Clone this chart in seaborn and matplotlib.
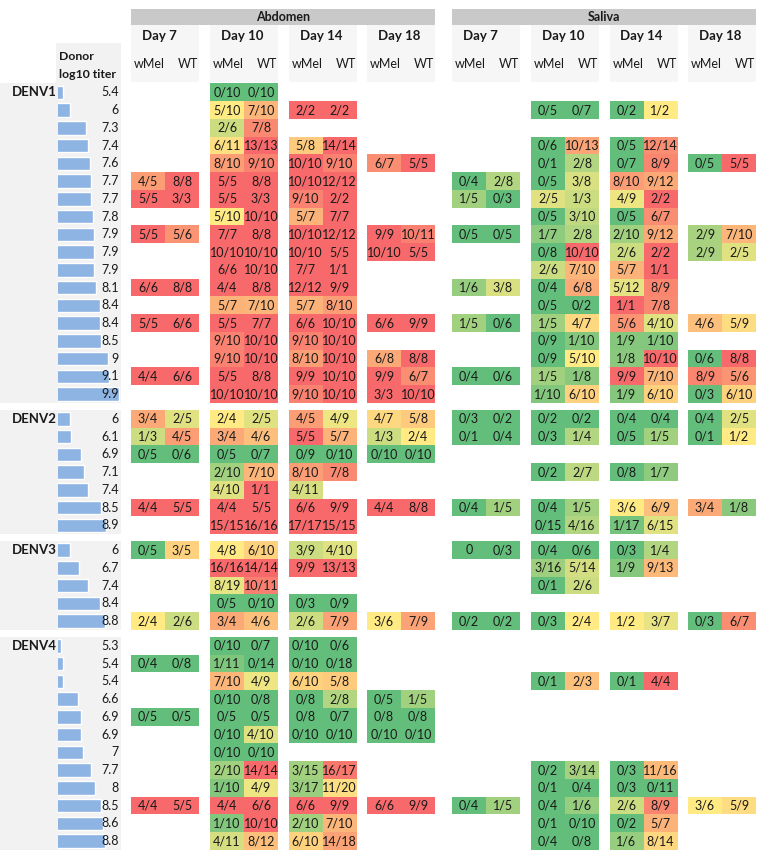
import numpy as np
import matplotlib
matplotlib.use('Agg')
import matplotlib.pyplot as plt
from matplotlib.colors import LinearSegmentedColormap
from matplotlib.patches import Rectangle
from matplotlib.transforms import blended_transform_factory
import seaborn as sns

# donor titers per serotype
denv1_titer = [5.4, 6, 7.3, 7.4, 7.6, 7.7, 7.7, 7.8, 7.9, 7.9, 7.9, 8.1, 8.4, 8.4, 8.5, 9, 9.1, 9.9]
denv2_titer = [6, 6.1, 6.9, 7.1, 7.4, 8.5, 8.9]
denv3_titer = [6, 6.7, 7.4, 8.4, 8.8]
denv4_titer = [5.3, 5.4, 5.4, 6.6, 6.9, 6.9, 7, 7.7, 8, 8.5, 8.6, 8.8]

days = ['Day 7', 'Day 10', 'Day 14', 'Day 18']
tissues = ['Abdomen', 'Saliva']
strains = ['wMel', 'WT']
E = ''

# infected / tested, columns: D7 wMel, D7 WT, D10 wMel, D10 WT, D14 wMel, D14 WT, D18 wMel, D18 WT
denv1_abdomen = [
    [E, E, '0/10', '0/10', E, E, E, E],
    [E, E, '5/10', '7/10', '2/2', '2/2', E, E],
    [E, E, '2/6', '7/8', E, E, E, E],
    [E, E, '6/11', '13/13', '5/8', '14/14', E, E],
    [E, E, '8/10', '9/10', '10/10', '9/10', '6/7', '5/5'],
    ['4/5', '8/8', '5/5', '8/8', '10/10', '12/12', E, E],
    ['5/5', '3/3', '5/5', '3/3', '9/10', '2/2', E, E],
    [E, E, '5/10', '10/10', '5/7', '7/7', E, E],
    ['5/5', '5/6', '7/7', '8/8', '10/10', '12/12', '9/9', '10/11'],
    [E, E, '10/10', '10/10', '10/10', '5/5', '10/10', '5/5'],
    [E, E, '6/6', '10/10', '7/7', '1/1', E, E],
    ['6/6', '8/8', '4/4', '8/8', '12/12', '9/9', E, E],
    [E, E, '5/7', '7/10', '5/7', '8/10', E, E],
    ['5/5', '6/6', '5/5', '7/7', '6/6', '10/10', '6/6', '9/9'],
    [E, E, '9/10', '10/10', '9/10', '10/10', E, E],
    [E, E, '9/10', '10/10', '8/10', '10/10', '6/8', '8/8'],
    ['4/4', '6/6', '5/5', '8/8', '9/9', '10/10', '9/9', '6/7'],
    [E, E, '10/10', '10/10', '9/10', '10/10', '3/3', '10/10'],
]
denv1_saliva = [
    [E, E, E, E, E, E, E, E],
    [E, E, '0/5', '0/7', '0/2', '1/2', E, E],
    [E, E, E, E, E, E, E, E],
    [E, E, '0/6', '10/13', '0/5', '12/14', E, E],
    [E, E, '0/1', '2/8', '0/7', '8/9', '0/5', '5/5'],
    ['0/4', '2/8', '0/5', '3/8', '8/10', '9/12', E, E],
    ['1/5', '0/3', '2/5', '1/3', '4/9', '2/2', E, E],
    [E, E, '0/5', '3/10', '0/5', '6/7', E, E],
    ['0/5', '0/5', '1/7', '2/8', '2/10', '9/12', '2/9', '7/10'],
    [E, E, '0/8', '10/10', '2/6', '2/2', '2/9', '2/5'],
    [E, E, '2/6', '7/10', '5/7', '1/1', E, E],
    ['1/6', '3/8', '0/4', '6/8', '5/12', '8/9', E, E],
    [E, E, '0/5', '0/2', '1/1', '7/8', E, E],
    ['1/5', '0/6', '1/5', '4/7', '5/6', '4/10', '4/6', '5/9'],
    [E, E, '0/9', '1/10', '1/9', '1/10', E, E],
    [E, E, '0/9', '5/10', '1/8', '10/10', '0/6', '8/8'],
    ['0/4', '0/6', '1/5', '1/8', '9/9', '7/10', '8/9', '5/6'],
    [E, E, '1/10', '6/10', '1/9', '6/10', '0/3', '6/10'],
]
denv2_abdomen = [
    ['3/4', '2/5', '2/4', '2/5', '4/5', '4/9', '4/7', '5/8'],
    ['1/3', '4/5', '3/4', '4/6', '5/5', '5/7', '1/3', '2/4'],
    ['0/5', '0/6', '0/5', '0/7', '0/9', '0/10', '0/10', '0/10'],
    [E, E, '2/10', '7/10', '8/10', '7/8', E, E],
    [E, E, '4/10', '1/1', '4/11', E, E, E],
    ['4/4', '5/5', '4/4', '5/5', '6/6', '9/9', '4/4', '8/8'],
    [E, E, '15/15', '16/16', '17/17', '15/15', E, E],
]
denv2_saliva = [
    ['0/3', '0/2', '0/2', '0/2', '0/4', '0/4', '0/4', '2/5'],
    ['0/1', '0/4', '0/3', '1/4', '0/5', '1/5', '0/1', '1/2'],
    [E, E, E, E, E, E, E, E],
    [E, E, '0/2', '2/7', '0/8', '1/7', E, E],
    [E, E, E, E, E, E, E, E],
    ['0/4', '1/5', '0/4', '1/5', '3/6', '6/9', '3/4', '1/8'],
    [E, E, '0/15', '4/16', '1/17', '6/15', E, E],
]
denv3_abdomen = [
    ['0/5', '3/5', '4/8', '6/10', '3/9', '4/10', E, E],
    [E, E, '16/16', '14/14', '9/9', '13/13', E, E],
    [E, E, '8/19', '10/11', E, E, E, E],
    [E, E, '0/5', '0/10', '0/3', '0/9', E, E],
    ['2/4', '2/6', '3/4', '4/6', '2/6', '7/9', '3/6', '7/9'],
]
denv3_saliva = [
    ['0', '0/3', '0/4', '0/6', '0/3', '1/4', E, E],
    [E, E, '3/16', '5/14', '1/9', '9/13', E, E],
    [E, E, '0/1', '2/6', E, E, E, E],
    [E, E, E, E, E, E, E, E],
    ['0/2', '0/2', '0/3', '2/4', '1/2', '3/7', '0/3', '6/7'],
]
denv4_abdomen = [
    [E, E, '0/10', '0/7', '0/10', '0/6', E, E],
    ['0/4', '0/8', '1/11', '0/14', '0/10', '0/18', E, E],
    [E, E, '7/10', '4/9', '6/10', '5/8', E, E],
    [E, E, '0/10', '0/8', '0/8', '2/8', '0/5', '1/5'],
    ['0/5', '0/5', '0/5', '0/5', '0/8', '0/7', '0/8', '0/8'],
    [E, E, '0/10', '4/10', '0/10', '0/10', '0/10', '0/10'],
    [E, E, '0/10', '0/10', E, E, E, E],
    [E, E, '2/10', '14/14', '3/15', '16/17', E, E],
    [E, E, '1/10', '4/9', '3/17', '11/20', E, E],
    ['4/4', '5/5', '4/4', '6/6', '6/6', '9/9', '6/6', '9/9'],
    [E, E, '1/10', '10/10', '2/10', '7/10', E, E],
    [E, E, '4/11', '8/12', '6/10', '14/18', E, E],
]
denv4_saliva = [
    [E, E, E, E, E, E, E, E],
    [E, E, E, E, E, E, E, E],
    [E, E, '0/1', '2/3', '0/1', '4/4', E, E],
    [E, E, E, E, E, E, E, E],
    [E, E, E, E, E, E, E, E],
    [E, E, E, E, E, E, E, E],
    [E, E, E, E, E, E, E, E],
    [E, E, '0/2', '3/14', '0/3', '11/16', E, E],
    [E, E, '0/1', '0/4', '0/3', '0/11', E, E],
    ['0/4', '1/5', '0/4', '1/6', '2/6', '8/9', '3/6', '5/9'],
    [E, E, '0/1', '0/10', '0/2', '5/7', E, E],
    [E, E, '0/4', '0/8', '1/6', '8/14', E, E],
]

groups = [
    ('DENV1', denv1_titer, denv1_abdomen, denv1_saliva),
    ('DENV2', denv2_titer, denv2_abdomen, denv2_saliva),
    ('DENV3', denv3_titer, denv3_abdomen, denv3_saliva),
    ('DENV4', denv4_titer, denv4_abdomen, denv4_saliva),
]


def frac(s):
    if s == '':
        return np.nan
    if '/' in s:
        a, b = s.split('/')
        return float(a) / float(b)
    return float(s)


sns.set_theme(style='white')
plt.rcParams['font.family'] = ['Lato', 'DejaVu Sans']

W, H = 766, 861
fig = plt.figure(figsize=(W / 100, H / 100), dpi=100)


def px_axes(x, y, w, h):
    return fig.add_axes([x / W, 1 - (y + h) / H, w / W, h / H])


def px_rect(x, y, w, h, color):
    # zorder below the axes so bars and cells sit on top
    fig.patches.append(Rectangle((x / W, 1 - (y + h) / H), w / W, h / H,
                                 transform=fig.transFigure, color=color, zorder=-5, lw=0))


def px_text(x, y, s, **kw):
    fig.text(x / W, 1 - y / H, s, **kw)


cmap = LinearSegmentedColormap.from_list('excel3', ['#63BE7B', '#FFEB84', '#F8696B'])
col_x = [131, 210, 288.5, 367, 452, 531, 609.5, 688]
cw = 68
pitch = 17.75
gap = 7
bar_x0, bar_x1 = 57.7, 121
txt = '#1a1a1a'
fs = 9

# header
for t, tissue in enumerate(tissues):
    x0 = col_x[t * 4]
    x1 = col_x[t * 4 + 3] + cw
    px_rect(x0, 9, x1 - x0, 16, '#C9C9C9')
    px_text((x0 + x1) / 2, 17, tissue, ha='center', va='center', fontsize=9, fontweight='bold', color=txt)
    for d, day in enumerate(days):
        x = col_x[t * 4 + d]
        px_rect(x, 25, cw, 57, '#F6F6F6')
        px_text(x + 11, 36, day, ha='left', va='center', fontsize=9.5, fontweight='bold', color=txt)
        px_text(x + 18.5, 64, strains[0], ha='center', va='center', fontsize=fs, color=txt)
        px_text(x + 57, 64, strains[1], ha='center', va='center', fontsize=fs, color=txt)

px_rect(56, 43, bar_x1 - 56, 41, '#F2F2F2')
px_text(59, 57, 'Donor', ha='left', va='center', fontsize=8.8, fontweight='bold', color=txt)
px_text(59, 75, 'log10 titer', ha='left', va='center', fontsize=8.8, fontweight='bold', color=txt)

top = 83.4
for name, titer, abd, sal in groups:
    n = len(titer)
    h = n * pitch
    px_rect(0, top, bar_x1, h, '#F2F2F2')
    px_text(12, top + pitch / 2, name, ha='left', va='center', fontsize=9.5, fontweight='bold', color=txt)

    ax = px_axes(bar_x0, top, bar_x1 - bar_x0, h)
    sns.barplot(x=titer, y=np.arange(n), orient='h', color='#8EB4E3', width=0.76,
                saturation=1, ax=ax)
    ax.set_xlim(5, 5 + (bar_x1 - bar_x0) / 12.5)
    ax.set_ylim(n - 0.5, -0.5)
    ax.axis('off')
    tr = blended_transform_factory(ax.transAxes, ax.transData)
    for i, v in enumerate(titer):
        ax.text(0.97, i, f'{v:g}', transform=tr, ha='right', va='center', fontsize=fs, color=txt)

    for t, rows in enumerate([abd, sal]):
        for d in range(4):
            lab = np.array([r[2 * d:2 * d + 2] for r in rows], dtype=object)
            vals = np.vectorize(frac, otypes=[float])(lab)
            if np.all(np.isnan(vals)):
                continue
            hx = px_axes(col_x[t * 4 + d], top, cw, h)
            sns.heatmap(vals, mask=np.isnan(vals), cmap=cmap, vmin=0, vmax=1, annot=lab, fmt='',
                        cbar=False, xticklabels=False, yticklabels=False, linewidths=0, ax=hx,
                        annot_kws={'fontsize': fs, 'color': txt})
            hx.axis('off')
    top += h + gap

fig.savefig('out.png', dpi=100)
